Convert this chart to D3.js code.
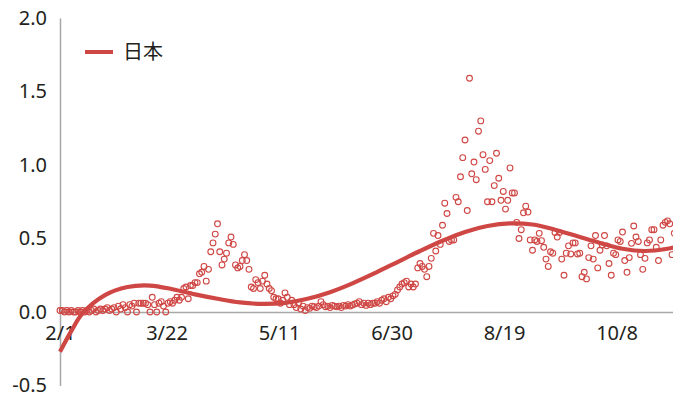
<!DOCTYPE html>
<html><head><meta charset="utf-8">
<script src="https://cdn.jsdelivr.net/npm/d3@7"></script>
<style>body{margin:0;background:#fff}svg{display:block}</style>
</head><body><svg id="c" width="673" height="394"></svg>
<script>
// ---- data ----
const startDate = "2020-02-01";
const dailyValues = [
  0.01,0.01,0.0,0.01,0.0,0.01,0.0,0.0,0.01,0.0,
  0.01,0.0,0.01,0.0,0.01,0.02,0.0,0.01,0.02,0.01,
  0.02,0.03,0.01,0.02,0.03,0.0,0.04,0.02,0.05,0.03,
  0.0,0.05,0.04,0.06,0.0,0.06,0.06,0.06,0.06,0.05,
  0.0,0.1,0.05,0.0,0.06,0.07,0.04,0.0,0.06,0.07,
  0.06,0.08,0.1,0.08,0.10,0.16,0.17,0.09,0.18,0.18,
  0.20,0.20,0.26,0.27,0.31,0.21,0.29,0.41,0.47,0.53,
  0.60,0.41,0.32,0.36,0.40,0.47,0.51,0.46,0.32,0.30,
  0.31,0.35,0.39,0.35,0.29,0.17,0.16,0.22,0.20,0.16,
  0.21,0.25,0.19,0.16,0.145,0.10,0.09,0.09,0.06,0.08,
  0.13,0.10,0.05,0.08,0.05,0.03,0.06,0.02,0.04,0.01,
  0.03,0.025,0.04,0.036,0.03,0.04,0.07,0.05,0.036,0.04,
  0.03,0.045,0.04,0.035,0.04,0.03,0.045,0.04,0.05,0.04,
  0.048,0.055,0.06,0.07,0.05,0.06,0.045,0.06,0.05,0.06,
  0.06,0.07,0.06,0.08,0.09,0.07,0.10,0.09,0.11,0.12,
  0.15,0.17,0.19,0.20,0.21,0.17,0.19,0.17,0.19,0.30,
  0.33,0.31,0.29,0.24,0.31,0.365,0.535,0.415,0.52,0.46,
  0.59,0.74,0.67,0.48,0.49,0.49,0.78,0.75,0.92,1.05,
  1.17,0.69,1.59,0.94,1.02,0.90,1.23,1.30,1.07,0.97,
  0.75,1.03,0.75,0.86,1.08,0.91,0.76,0.82,0.70,0.76,
  0.98,0.81,0.81,0.61,0.50,0.56,0.675,0.72,0.68,0.49,
  0.42,0.49,0.48,0.535,0.485,0.44,0.36,0.31,0.41,0.40,
  0.54,0.51,0.54,0.36,0.25,0.40,0.45,0.395,0.47,0.47,
  0.395,0.40,0.24,0.27,0.225,0.37,0.45,0.36,0.52,0.30,
  0.42,0.456,0.52,0.45,0.33,0.25,0.40,0.39,0.49,0.48,
  0.544,0.35,0.27,0.37,0.467,0.585,0.51,0.48,0.39,0.29,
  0.365,0.47,0.49,0.56,0.56,0.44,0.35,0.49,0.59,0.61,
  0.62,0.60,0.39,0.535
];
const trendDays   = [0,5,10,20,30,40,50,60,70,80,90,100,110,120,130,140,150,160,170,180,190,200,210,220,230,240,250,260,270,273];
const trendValues = [-0.27,-0.13,-0.01,0.115,0.17,0.18,0.155,0.12,0.09,0.065,0.055,0.062,0.09,0.135,0.195,0.265,0.34,0.415,0.485,0.545,0.585,0.603,0.595,0.56,0.515,0.47,0.43,0.415,0.43,0.44];
const xTickDays   = [0,50,100,150,200,250];
const xTickLabels = ["2/1","3/22","5/11","6/30","8/19","10/8"];
const yTickValues = [-0.5,0,0.5,1,1.5,2];
const yTickLabels = ["-0.5","0.0","0.5","1.0","1.5","2.0"];
const seriesName  = "日本";

// ---- chart ----
const svg = d3.select("#c");
const red = "#cf4744";
const x = d3.scaleLinear().domain([0, 273]).range([60, 60 + 273 * 2.25]);
const y = d3.scaleLinear().domain([-0.5, 2]).range([385.5, 18]);

const font = "'Noto Sans', 'Open Sans', sans-serif";

// y axis
const yAxis = svg.append("g").attr("transform", "translate(60,0)")
  .call(d3.axisLeft(y).tickValues(yTickValues).tickFormat((d, i) => yTickLabels[i]).tickSize(0).tickPadding(13));
yAxis.select(".domain").attr("stroke", "#a8a8a8").attr("stroke-width", 1.5);
yAxis.selectAll("text").attr("font-family", font).attr("font-size", 20).attr("fill", "#231f20");

// x axis at zero
const xAxis = svg.append("g").attr("transform", `translate(0,${y(0)})`)
  .call(d3.axisBottom(x).tickValues(xTickDays).tickFormat((d, i) => xTickLabels[i]).tickSize(0).tickPadding(14));
xAxis.select(".domain").attr("stroke", "#a8a8a8").attr("stroke-width", 1.5);
xAxis.selectAll("text").attr("font-family", font).attr("font-size", 20).attr("fill", "#231f20")
  .attr("dx", (d, i) => i === 0 ? 0 : -6);

// scatter points
svg.append("g").selectAll("circle").data(dailyValues).join("circle")
  .attr("cx", (d, i) => x(i)).attr("cy", d => y(d)).attr("r", 2.9)
  .attr("fill", "none").attr("stroke", red).attr("stroke-width", 1.1);

// trend line
const trend = trendDays.map((d, i) => [d, trendValues[i]]);
svg.append("path").datum(trend)
  .attr("d", d3.line().x(d => x(d[0])).y(d => y(d[1])).curve(d3.curveCatmullRom))
  .attr("fill", "none").attr("stroke", red).attr("stroke-width", 4.2).attr("stroke-linecap", "butt");

// legend
svg.append("line").attr("x1", 85).attr("x2", 113).attr("y1", 52).attr("y2", 52)
  .attr("stroke", red).attr("stroke-width", 4);
svg.append("text").attr("x", 123).attr("y", 52).attr("dy", "0.36em")
  .attr("font-family", "'Noto Sans CJK JP', sans-serif").attr("font-size", 20).attr("fill", "#231f20")
  .text(seriesName);
</script></body></html>
